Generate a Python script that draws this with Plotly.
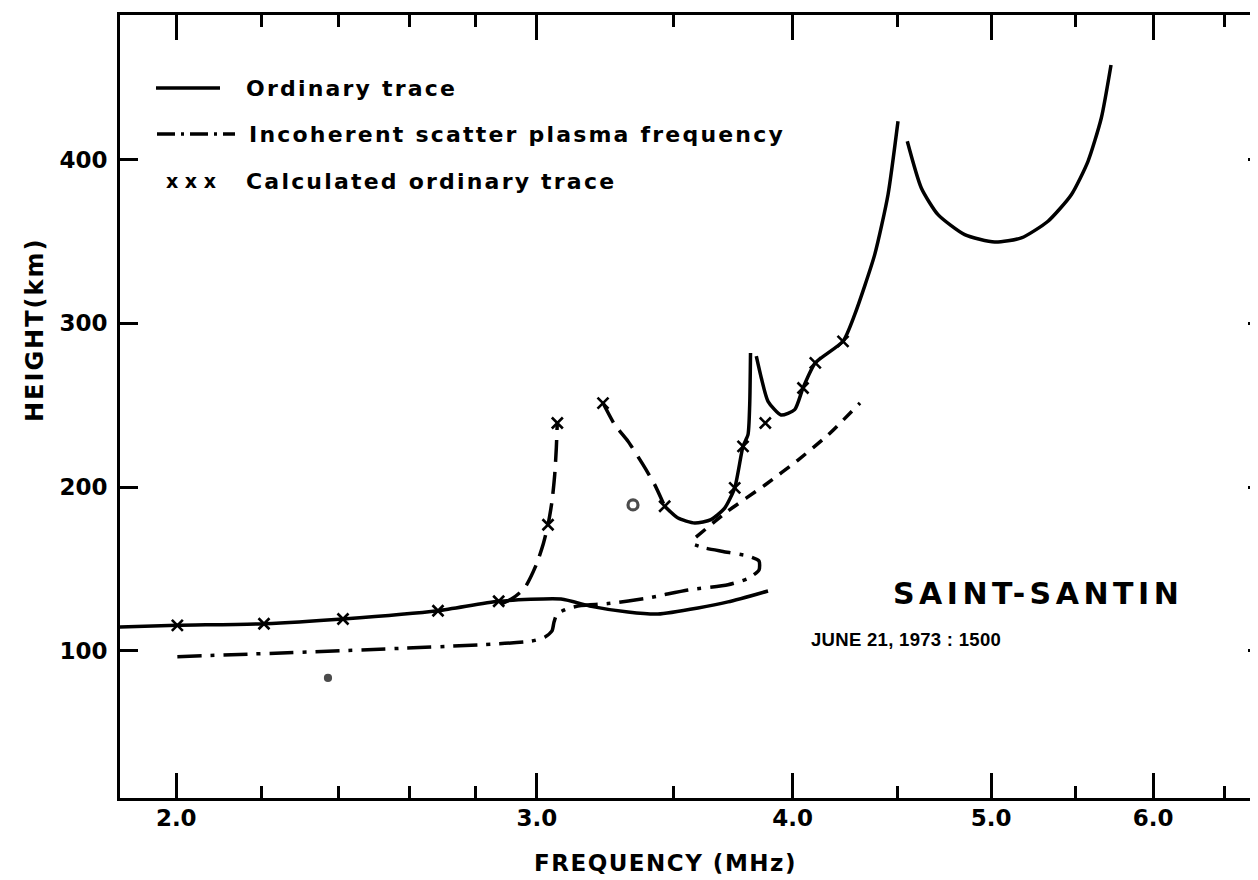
import plotly.graph_objects as go

# ---------------- data (frequency in MHz, virtual height in km) ----------------
# Ordinary trace, lower branch - solid
ord_low_f = [1.877, 2.0025, 2.2074, 2.4125, 2.6845, 2.8741, 3.0827, 3.1895, 3.3239, 3.4379, 3.5961, 3.7196, 3.8907]
ord_low_h = [114.6, 115.6, 116.6, 119.5, 124.5, 130.3, 131.7, 127.2, 123.7, 122.5, 126.2, 129.9, 136.6]

# dashed rising branch near 3.0 MHz
dash1_f = [2.8816, 2.9208, 2.9594, 2.9982, 3.0210, 3.0380, 3.0517, 3.0610, 3.0665, 3.0700]
dash1_h = [128.6, 132.3, 138.4, 152.6, 164.8, 177.0, 191.3, 207.6, 223.9, 240.2]

# dashed descending branch of F1 trace
dash2_f = [3.2318, 3.2745, 3.3239, 3.3805, 3.4252, 3.4639]
dash2_h = [251.3, 238.1, 228.0, 213.7, 201.5, 188.3]

# solid F1 trace up to the F1 cusp
f1_f = [3.4639, 3.5162, 3.5828, 3.6491, 3.7058, 3.7477, 3.7829, 3.8041, 3.8114, 3.8149]
f1_h = [188.3, 181.1, 178.1, 180.1, 187.2, 199.5, 224.9, 232.0, 250.3, 281.9]

# solid F2 trace (lower part) up to the cusp
f2_f = [3.8398, 3.8615, 3.8907, 3.9480, 4.0093, 4.0469, 4.1032, 4.2331, 4.2891, 4.3867, 4.4528, 4.5031]
f2_h = [279.9, 266.6, 252.4, 244.0, 247.3, 260.5, 275.8, 289.0, 305.3, 341.9, 378.5, 423.3]

# solid upper trace after the cusp
f3_f = [4.5504, 4.6227, 4.7104, 4.8539, 5.0204, 5.1729, 5.3305, 5.4721, 5.5758, 5.6598, 5.7219]
f3_h = [411.1, 382.6, 366.3, 354.1, 349.6, 352.1, 362.3, 378.5, 398.9, 425.3, 457.7]

# incoherent scatter plasma frequency - dash-dot
isp_f = [2.0025, 2.9804, 3.0278, 3.0517, 3.0586, 3.0689, 3.1071, 3.1528, 3.2500, 3.3995,
         3.5559, 3.7196, 3.8041, 3.8515, 3.8515, 3.8041, 3.6987, 3.6245, 3.5840]
isp_h = [96.5, 105.9, 108.5, 112.2, 117.6, 122.5, 125.9, 127.7, 128.9, 132.3,
         137.2, 140.4, 144.2, 149.4, 154.9, 157.9, 160.7, 162.8, 164.7]

# short-dashed line
sdash_f = [3.5880, 3.7196, 3.8776, 4.0242, 4.1622, 4.3147]
sdash_h = [169.5, 185.4, 201.3, 216.5, 231.8, 251.3]

# calculated ordinary trace (x marks)
calc_f = [2.0025, 2.2074, 2.4125, 2.6845, 2.8741, 3.0380, 3.0700, 3.2318, 3.4639,
          3.7477, 3.7829, 3.8789, 4.0469, 4.1032, 4.2331]
calc_h = [115.6, 116.6, 119.5, 124.5, 130.3, 177.0, 239.1, 251.3, 188.3,
          199.5, 224.9, 239.1, 260.5, 275.8, 289.0]

# small stray marks on the original record
stray_f = [3.3427, 2.3721]
stray_h = [189.1, 83.5]
stray_sym = ["circle-open", "circle"]

x_major = [2.0, 3.0, 4.0, 5.0, 6.0]
x_major_text = ["2.0", "3.0", "4.0", "5.0", "6.0"]
x_minor = [2.2, 2.4, 2.6, 2.8, 3.5, 4.5, 5.5, 6.5]
y_major = [100, 200, 300, 400]

legend_labels = ["Ordinary trace", "Incoherent scatter plasma frequency", "Calculated ordinary trace"]

FONT = "DejaVu Sans"
NARROW = "Liberation Sans, DejaVu Sans"
LW = 3.5

fig = go.Figure()

def line(xs, ys, dash="solid", name=None, smooth=0.6):
    fig.add_trace(go.Scatter(x=xs, y=ys, mode="lines", name=name, showlegend=False,
                             line=dict(color="black", width=LW, dash=dash, shape="spline",
                                       smoothing=smooth)))

line(ord_low_f, ord_low_h, "solid", legend_labels[0])
line(dash1_f, dash1_h, "22px,10px")
line(dash2_f, dash2_h, "22px,10px")
line(f1_f, f1_h, "solid")
line(f2_f, f2_h, "solid")
line(f3_f, f3_h, "solid")
line(isp_f, isp_h, "24px,9px,4px,9px", legend_labels[1])
line(sdash_f, sdash_h, "12px,9px")

fig.add_trace(go.Scatter(x=calc_f, y=calc_h, mode="markers", name=legend_labels[2], showlegend=False,
                         marker=dict(symbol="x-thin", size=11, color="black",
                                     line=dict(width=2.6, color="black"))))
fig.add_trace(go.Scatter(x=stray_f, y=stray_h, mode="markers", showlegend=False,
                         marker=dict(symbol=stray_sym, size=[10, 5], color="black",
                                     line=dict(width=3.2, color="black"))))
# invisible trace to carry the right-hand y axis (mirror ticks)
fig.add_trace(go.Scatter(x=[x_major[0]], y=[y_major[0]], yaxis="y2", mode="markers",
                         marker=dict(opacity=0), hoverinfo="skip", showlegend=False))

# ---------------- layout ----------------
L, R, T, B = 112, 0, 7, 90
W, H = 1258, 880
pw, ph = W - L - R, H - T - B

def px(xp):
    return (xp - L) / pw

def py(yp):
    return (H - B - yp) / ph

tickfont = dict(family=FONT, size=23, color="black", weight="bold")

fig.update_layout(
    xaxis=dict(type="log", range=[0.27356, 0.83323], tickmode="array",
               tickvals=x_major, ticktext=x_major_text, ticks="inside", ticklen=25,
               tickwidth=3, tickcolor="black", showline=True, linecolor="black",
               linewidth=3, mirror="ticks", showgrid=False, zeroline=False,
               ticklabelstandoff=-3, tickfont=tickfont,
               minor=dict(tickmode="array", tickvals=x_minor, ticks="inside",
                          ticklen=12, tickwidth=3, tickcolor="black")),
    yaxis=dict(range=[10.2, 488.2], tickmode="array", tickvals=y_major,
               ticks="inside", ticklen=18, tickwidth=3, tickcolor="black",
               showline=True, linecolor="black", linewidth=3, mirror=False,
               showgrid=False, zeroline=False, ticklabelstandoff=5, tickfont=tickfont),
    yaxis2=dict(range=[10.2, 488.2], overlaying="y", side="right", tickmode="array",
                tickvals=y_major, ticks="inside", ticklen=18, tickwidth=3,
                tickcolor="black", showticklabels=False, showline=False,
                showgrid=False, zeroline=False),
)

ann = []
def text(xp, yp, s, size=22, spacing=0, xanchor="left", angle=0, weight="bold", family=FONT):
    ann.append(dict(x=px(xp), y=py(yp), xref="paper", yref="paper", showarrow=False,
                    xanchor=xanchor, yanchor="middle", textangle=angle,
                    text=f"<span style='letter-spacing:{spacing}px'>{s}</span>",
                    font=dict(family=family, size=size, color="black", weight=weight)))

# legend (drawn as in the original figure)
rows = [80, 126, 173]
text(236, rows[0], legend_labels[0], 22, 2.2)
text(239, rows[1], legend_labels[1], 22, 2.2)
text(156, rows[2], "x x x", 19, 0)
text(236, rows[2], legend_labels[2], 22, 2.2)

shapes = [
    dict(type="line", xref="paper", yref="paper", x0=px(148), x1=px(212), y0=py(rows[0]), y1=py(rows[0]),
         line=dict(color="black", width=LW)),
    dict(type="line", xref="paper", yref="paper", x0=px(149), x1=px(227), y0=py(rows[1]), y1=py(rows[1]),
         line=dict(color="black", width=LW, dash="18px,6px,3px,6px")),
]

# station / date annotation
text(1030, 585, "SAINT-SANTIN", 30, 4.5, xanchor="center")
text(898, 631, "JUNE 21, 1973 : 1500", 18.5, 0.3, xanchor="center", family=NARROW)

# axis titles
text(657, 855, "FREQUENCY (MHz)", 23, 1.5, xanchor="center")
text(27, 322, "HEIGHT(km)", 24, 2, xanchor="center", angle=-90)

fig.update_layout(width=W, height=H, margin=dict(l=L, r=R, t=T, b=B),
                  paper_bgcolor="white", plot_bgcolor="white",
                  annotations=ann, shapes=shapes, showlegend=False,
                  font=dict(family=FONT, color="black"))

fig.write_html("out.html")
